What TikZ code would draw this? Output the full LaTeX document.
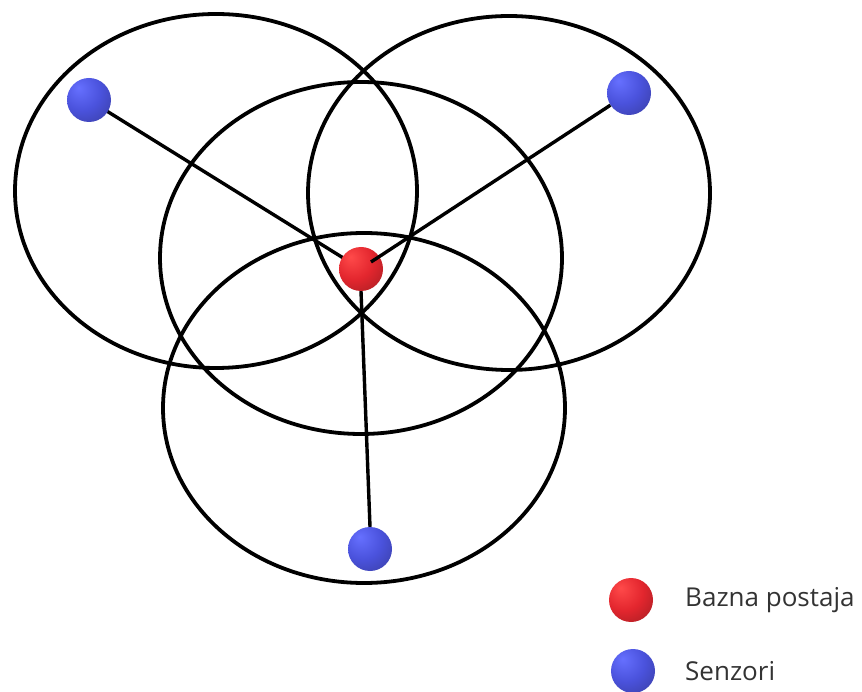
\documentclass[tikz,border=0pt]{standalone}
\usepackage{fontspec}
\setmainfont{Open Sans}
\definecolor{bla}{HTML}{6670FF}
\definecolor{blb}{HTML}{4A52DC}
\definecolor{blc}{HTML}{33368E}
\definecolor{rda}{HTML}{FF4A4A}
\definecolor{rdb}{HTML}{E3262E}
\definecolor{rdc}{HTML}{8E1A1E}
\pgfdeclareradialshading{blueball}{\pgfpoint{-12bp}{14bp}}{color(0bp)=(bla); color(22bp)=(blb); color(52bp)=(blc); color(80bp)=(blc)}
\pgfdeclareradialshading{redball}{\pgfpoint{-12bp}{14bp}}{color(0bp)=(rda); color(22bp)=(rdb); color(52bp)=(rdc); color(80bp)=(rdc)}
\tikzset{
  rangering/.style={draw=black, line width=3.8pt},
  link/.style={draw=black, line width=3.4pt},
  sensor/.style={circle, minimum size=44pt, inner sep=0pt, shading=blueball},
  base/.style={circle, minimum size=44pt, inner sep=0pt, shading=redball},
  legtext/.style={anchor=west, inner sep=0pt, font=\fontsize{26}{30}\selectfont, text=black!80},
}
\begin{document}
\begin{tikzpicture}[x=1pt,y=-1pt]
\useasboundingbox (0,0) rectangle (862,692);
% range ellipses
\draw[rangering] (216,191) ellipse [x radius=201, y radius=177];
\draw[rangering] (509,193) ellipse [x radius=201, y radius=177];
\draw[rangering] (361,258) ellipse [x radius=201, y radius=176];
\draw[rangering] (364,408) ellipse [x radius=201, y radius=175];
% nodes
\coordinate (bc) at (361,269);
\coordinate (rin) at (371,262);
\draw[link] (89,100) -- (bc);
\node[base] (bs) at (bc) {};
\node[sensor] (s1) at (89,100) {};
\node[sensor] (s2) at (629,93) {};
\node[sensor] (s3) at (370,549) {};
\draw[link] (s2) -- (rin);
\draw[link] (bs.south) -- (s3.north);
% legend
\node[base] (lb) at (631,600) {};
\node[sensor] (ls) at (633,671) {};
\node[legtext] (tb) at (685,600) {Bazna postaja};
\node[legtext] (ts) at (685,671) {Senzori};
\end{tikzpicture}
\end{document}
